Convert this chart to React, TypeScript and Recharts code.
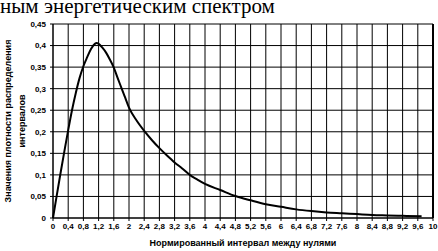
import React from "react";
import { LineChart, Line, XAxis, YAxis, CartesianGrid, ReferenceLine } from "recharts";

const xValues = [0, 0.1, 0.2, 0.3, 0.4, 0.5, 0.6, 0.7, 0.8, 0.9, 1.0, 1.1, 1.15, 1.2, 1.3, 1.4, 1.5, 1.6, 1.7, 1.8, 1.9, 2.0, 2.2, 2.4, 2.6, 2.8, 3.0, 3.2, 3.4, 3.6, 3.8, 4.0, 4.4, 4.8, 5.2, 5.6, 6.0, 6.4, 6.8, 7.2, 7.6, 8.0, 8.4, 8.8, 9.2, 9.7];
const densityValues = [0, 0.053, 0.105, 0.155, 0.204, 0.25, 0.29, 0.325, 0.352, 0.373, 0.392, 0.404, 0.406, 0.404, 0.395, 0.383, 0.367, 0.349, 0.325, 0.302, 0.279, 0.256, 0.226, 0.202, 0.181, 0.162, 0.145, 0.129, 0.115, 0.1, 0.089, 0.079, 0.065, 0.051, 0.041, 0.032, 0.026, 0.02, 0.016, 0.013, 0.011, 0.009, 0.007, 0.006, 0.005, 0.004];
const xTicks = [0, 0.4, 0.8, 1.2, 1.6, 2, 2.4, 2.8, 3.2, 3.6, 4, 4.4, 4.8, 5.2, 5.6, 6, 6.4, 6.8, 7.2, 7.6, 8, 8.4, 8.8, 9.2, 9.6, 10];
const yTicks = [0, 0.05, 0.1, 0.15, 0.2, 0.25, 0.3, 0.35, 0.4, 0.45];

const titleText = "ным энергетическим спектром";
const xTitle = "Нормированный интервал между нулями";
const yTitleLine1 = "Значения плотности распределения";
const yTitleLine2 = "интервалов";

const data = xValues.map((x, i) => ({ x, y: densityValues[i] }));
const fmt = (v: number) => String(v).replace(".", ",");

const tickFont = { fontFamily: "Liberation Sans, Arial, sans-serif", fontSize: 8, fontWeight: 700, fill: "#000" };

export default function App() {
  return (
    <div style={{ position: "absolute", left: 0, top: 0, width: 438, height: 251, background: "#fff", overflow: "hidden" }}>
      <LineChart width={438} height={251} data={data} margin={{ top: 24, right: 5, bottom: 0, left: 0 }}>
        <CartesianGrid stroke="#000" strokeWidth={1} horizontal vertical />
        <XAxis
          dataKey="x"
          type="number"
          domain={[0, 10]}
          ticks={xTicks}
          interval={0}
          tickFormatter={fmt}
          height={33}
          tickSize={3}
          tickMargin={2}
          stroke="#000"
          tick={tickFont}
        />
        <YAxis
          type="number"
          domain={[0, 0.45]}
          ticks={yTicks}
          interval={0}
          tickFormatter={fmt}
          width={53}
          tickSize={3}
          tickMargin={4}
          stroke="#000"
          tick={tickFont}
        />
        <ReferenceLine x={10} stroke="#000" strokeWidth={2} />
        <Line dataKey="y" type="monotone" stroke="#000" strokeWidth={2} dot={false} isAnimationActive={false} />
      </LineChart>
      <svg width={438} height={251} style={{ position: "absolute", left: 0, top: 0, pointerEvents: "none" }}>
        <text x={0} y={13} fontFamily="Liberation Serif, Times New Roman, serif" fontSize={21} fill="#000">{titleText}</text>
        <text x={243} y={246} textAnchor="middle" fontFamily="Liberation Sans, Arial, sans-serif" fontSize={9} fontWeight={700} fill="#000">{xTitle}</text>
        <text transform="translate(11,121) rotate(-90)" textAnchor="middle" fontFamily="Liberation Sans, Arial, sans-serif" fontSize={9} fontWeight={700} fill="#000">{yTitleLine1}</text>
        <text transform="translate(25,121) rotate(-90)" textAnchor="middle" fontFamily="Liberation Sans, Arial, sans-serif" fontSize={9} fontWeight={700} fill="#000">{yTitleLine2}</text>
      </svg>
    </div>
  );
}
